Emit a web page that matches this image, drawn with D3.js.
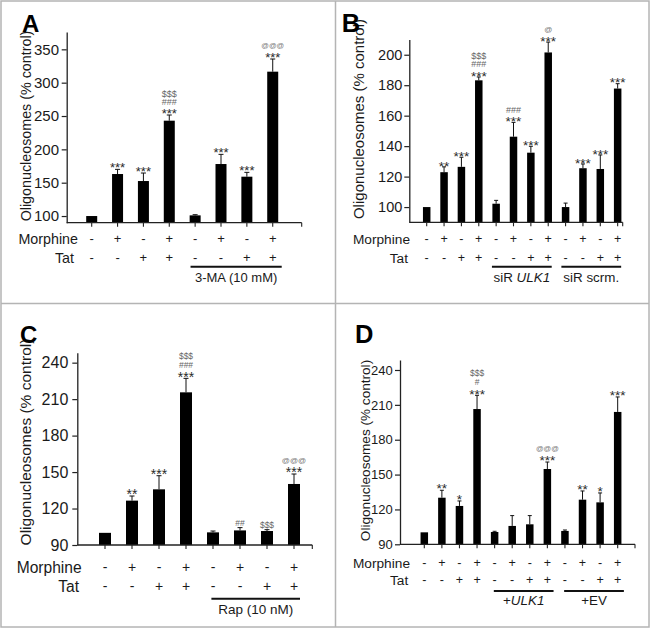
<!DOCTYPE html>
<html><head><meta charset="utf-8">
<script src="https://cdn.jsdelivr.net/npm/d3@7"></script>
<style>
body{margin:0;background:#fff}
svg{display:block}
text{font-family:Arial,"Liberation Sans",Helvetica,sans-serif;fill:#1a1a1a}
</style>
</head><body>
<svg id="c" width="651" height="629"></svg>
<script>
// ---------------- DATA ----------------
// Panel A
const categoriesA = ['Ctrl','Morph','Tat','Morph+Tat','3MA','3MA+Morph','3MA+Tat','3MA+Morph+Tat'];
const valuesA = [100, 163, 152.5, 243, 101, 178, 159, 316.5];
const errorsA = [0, 7, 12, 8.5, 1, 14.5, 6.5, 19];
const morphineA = ['-','+','-','+','-','+','-','+'];
const tatA = ['-','-','+','+','-','-','+','+'];
const signifA = [[],['***'],['***'],['***','###','$$$'],[],['***'],['***'],['***','@@@']];
const yTicksA = [100,150,200,250,300,350];
const groupsA = [{segments:['3-MA (10 mM)'], italic:[false], from:4, to:7}];

// Panel B
const categoriesB = ['Ctrl','Morph','Tat','Morph+Tat','siULK1','siULK1+Morph','siULK1+Tat','siULK1+Morph+Tat','scrm','scrm+Morph','scrm+Tat','scrm+Morph+Tat'];
const valuesB = [100, 122.9, 126.4, 183.2, 102.2, 146.2, 135.7, 201.5, 100, 125.5, 125, 177.8];
const errorsB = [0, 3.5, 6.3, 2.2, 2.2, 9.4, 4.2, 6.8, 2.6, 2.8, 9.2, 3.2];
const morphineB = ['-','+','-','+','-','+','-','+','-','+','-','+'];
const tatB = ['-','-','+','+','-','-','+','+','-','-','+','+'];
const signifB = [[],['**'],['***'],['***','###','$$$'],[],['***','###'],['***'],['***','@'],[],['***'],['***'],['***']];
const yTicksB = [100,120,140,160,180,200];
const groupsB = [{segments:['siR ','ULK1'], italic:[false,true], from:4, to:7},
                 {segments:['siR scrm.'], italic:[false], from:8, to:11}];

// Panel C
const categoriesC = ['Ctrl','Morph','Tat','Morph+Tat','Rap','Rap+Morph','Rap+Tat','Rap+Morph+Tat'];
const valuesC = [100, 126.5, 135.8, 215.6, 100.4, 102, 101.5, 140.2];
const errorsC = [0, 3.8, 11.2, 11.5, 1.1, 2.3, 1.1, 8.2];
const morphineC = ['-','+','-','+','-','+','-','+'];
const tatC = ['-','-','+','+','-','-','+','+'];
const signifC = [[],['**'],['***'],['***','###','$$$'],[],['##'],['$$$'],['***','@@@']];
const yTicksC = [90,120,150,180,210,240];
const groupsC = [{segments:['Rap (10 nM)'], italic:[false], from:4, to:7}];

// Panel D
const categoriesD = ['Ctrl','Morph','Tat','Morph+Tat','ULK1','ULK1+Morph','ULK1+Tat','ULK1+Morph+Tat','EV','EV+Morph','EV+Tat','EV+Morph+Tat'];
const valuesD = [100.3, 130.1, 123, 206.4, 100.6, 105.8, 107.2, 154.8, 101.5, 128.4, 126.1, 203.9];
const errorsD = [0, 6.4, 4.3, 11.8, 0.6, 8.9, 7.5, 6, 0.8, 7.5, 8.1, 12.9];
const morphineD = ['-','+','-','+','-','+','-','+','-','+','-','+'];
const tatD = ['-','-','+','+','-','-','+','+','-','-','+','+'];
const signifD = [[],['**'],['*'],['***','#','$$$'],[],[],[],['***','@@@'],[],['**'],['*'],['***']];
const yTicksD = [90,120,150,180,210,240];
const groupsD = [{segments:['+','ULK1'], italic:[false,true], from:4, to:7},
                 {segments:['+EV'], italic:[false], from:8, to:11}];

const yTitle = 'Oligonucleosomes (% control)';
const rowLabels = ['Morphine','Tat'];

// ---------------- LAYOUT ----------------
const layouts = {
  A:{yAxisX:66.7, plotTop:32, plotBottom:222.7, yMin:90, yMax:376, xEnd:301.7, firstCenter:91.7, step:25.86, barW:11,
     rowY:[239,258], labelRight:[78,74], rowFont:14.3, signFont:13, tickFont:15, tickPad:2.7, titleFont:14.3, titleX:26, titleY:126,
     letterX:22, letterY:32, letterFont:24, underY:266.7, underPad:[4.6,9], groupY:277, groupFont:13,
     starFont:13, symFont:9, atFont:7.5, annOff:4.5, annStep:8.5, cap:5},
  B:{yAxisX:409.3, plotTop:39.5, plotBottom:222.3, yMin:90, yMax:210, xEnd:622.7, firstCenter:426.7, step:17.36, barW:7.5,
     rowY:[239,257.7], labelRight:[410,408], rowFont:13.7, signFont:12.5, tickFont:14.5, tickPad:2, titleFont:15, titleX:358.3, titleY:119,
     letterX:341.7, letterY:31.7, letterFont:25.5, underY:266.7, underPad:[4.2,3.5], groupY:276.7, groupFont:13.4,
     starFont:13.5, symFont:9, atFont:8, annOff:4, annStep:8.8, cap:4},
  C:{yAxisX:77.3, plotTop:352.7, plotBottom:545, yMin:90, yMax:248.2, xEnd:312.3, firstCenter:105, step:27, barW:12,
     rowY:[567.3,586.7], labelRight:[81.7,79], rowFont:15.6, signFont:14, tickFont:16, tickPad:4, titleFont:15.5, titleX:26, titleY:442,
     letterX:20, letterY:343.3, letterFont:24, underY:598.7, underPad:[1.6,6], groupY:609, groupFont:13.5,
     starFont:14, symFont:8.5, atFont:8, annOff:4.5, annStep:8.8, cap:5},
  D:{yAxisX:400, plotTop:360, plotBottom:544.3, yMin:90, yMax:248.6, xEnd:635, firstCenter:424.3, step:17.58, barW:7.5,
     rowY:[563.3,580], labelRight:[410,408.3], rowFont:13.7, signFont:12.5, tickFont:13, tickPad:2.3, titleFont:13.6, titleX:365, titleY:450.5,
     letterX:355, letterY:343.3, letterFont:25.5, underY:591, underPad:[0.8,6.2], groupY:600, groupFont:13.4,
     starFont:13.5, symFont:8.5, atFont:7.5, annOff:4.5, annStep:8.8, cap:4}
};

const panels = [
  {letter:'A', categories:categoriesA, values:valuesA, errors:errorsA, rows:[morphineA,tatA], signif:signifA, yTicks:yTicksA, groups:groupsA},
  {letter:'B', categories:categoriesB, values:valuesB, errors:errorsB, rows:[morphineB,tatB], signif:signifB, yTicks:yTicksB, groups:groupsB},
  {letter:'C', categories:categoriesC, values:valuesC, errors:errorsC, rows:[morphineC,tatC], signif:signifC, yTicks:yTicksC, groups:groupsC},
  {letter:'D', categories:categoriesD, values:valuesD, errors:errorsD, rows:[morphineD,tatD], signif:signifD, yTicks:yTicksD, groups:groupsD}
];

// ---------------- DRAW ----------------
const svg = d3.select('#c');

// frame
svg.append('rect').attr('x',1).attr('y',1).attr('width',648).attr('height',626)
  .attr('fill','none').attr('stroke','#b4b4b4').attr('stroke-width',1.5);
svg.append('line').attr('x1',335.5).attr('x2',335.5).attr('y1',1).attr('y2',627)
  .attr('stroke','#b4b4b4').attr('stroke-width',1.5);
svg.append('line').attr('x1',1).attr('x2',649).attr('y1',303.5).attr('y2',303.5)
  .attr('stroke','#b4b4b4').attr('stroke-width',1.5);

panels.forEach(p => {
  const L = layouts[p.letter];
  const g = svg.append('g');
  const n = p.categories.length;
  const pad = 1 - L.barW / L.step;
  const x0 = L.firstCenter - L.step/2;
  const x = d3.scaleBand().domain(p.categories).range([x0, x0 + L.step*n])
              .paddingInner(pad).paddingOuter(pad/2);
  const cx = c => x(c) + x.bandwidth()/2;
  const y = d3.scaleLinear().domain([L.yMin, L.yMax]).range([L.plotBottom, L.plotTop]);

  // error bars
  p.categories.forEach((c,i) => {
    const e = p.errors[i];
    if (e <= 0) return;
    const yt = y(p.values[i] + e);
    g.append('line').attr('x1',cx(c)).attr('x2',cx(c)).attr('y1',y(p.values[i])).attr('y2',yt)
      .attr('stroke','#111').attr('stroke-width',1);
    g.append('line').attr('x1',cx(c)-L.cap/2).attr('x2',cx(c)+L.cap/2).attr('y1',yt).attr('y2',yt)
      .attr('stroke','#111').attr('stroke-width',1);
  });

  // bars
  g.selectAll('rect.bar').data(p.categories).join('rect').attr('class','bar')
    .attr('x', c => x(c)).attr('width', x.bandwidth())
    .attr('y', (c,i) => y(p.values[i]))
    .attr('height', (c,i) => y(L.yMin) - y(p.values[i]))
    .attr('fill','#000');

  // y axis
  const ya = g.append('g').attr('transform',`translate(${L.yAxisX},0)`)
    .call(d3.axisLeft(y).tickValues(p.yTicks).tickSize(5).tickSizeOuter(0).tickPadding(L.tickPad).tickFormat(d3.format('d')));
  ya.select('.domain').attr('stroke','#222').attr('stroke-width',1.3);
  ya.selectAll('.tick line').attr('stroke','#222').attr('stroke-width',1.2);
  ya.selectAll('.tick text').attr('font-size',L.tickFont).attr('fill','#1a1a1a')
    .attr('font-family','Arial, "Liberation Sans", sans-serif');

  // x axis (ticks at bar centres)
  const xa = g.append('g').attr('transform',`translate(0,${L.plotBottom})`)
    .call(d3.axisBottom(x).tickSize(4).tickSizeOuter(0).tickFormat(''));
  xa.select('.domain').remove();
  xa.selectAll('.tick line').attr('stroke','#222').attr('stroke-width',1.1);
  g.append('line').attr('x1',L.yAxisX).attr('x2',L.xEnd).attr('y1',L.plotBottom).attr('y2',L.plotBottom)
    .attr('stroke','#222').attr('stroke-width',1.3);
  g.append('line').attr('x1',L.xEnd).attr('x2',L.xEnd).attr('y1',L.plotBottom).attr('y2',L.plotBottom+4)
    .attr('stroke','#222').attr('stroke-width',1.1);

  // significance marks: one text per bar, stacked lines as tspans
  p.categories.forEach((c,i) => {
    if (!p.signif[i].length) return;
    const top = y(p.values[i] + p.errors[i]);
    const t = g.append('text').attr('text-anchor','middle');
    p.signif[i].forEach((s,k) => {
      const center = top - L.annOff - k*L.annStep;
      let fs, base, col;
      if (s[0] === '*') { fs = L.starFont; base = center + 0.57*fs; col = '#2a2a2a'; }
      else if (s[0] === '@') { fs = L.atFont; base = center + 0.28*fs; col = '#777'; }
      else { fs = L.symFont; base = center + 0.36*fs; col = '#666'; }
      t.append('tspan').attr('x',cx(c)).attr('y',base).attr('font-size',fs).style('fill',col).text(s);
    });
  });

  // y title
  g.append('text').attr('transform',`translate(${L.titleX},${L.titleY}) rotate(-90)`)
    .attr('text-anchor','middle').attr('dy','0.35em').attr('font-size',L.titleFont).text(yTitle);

  // panel letter
  g.append('text').attr('x',L.letterX).attr('y',L.letterY).attr('font-size',L.letterFont)
    .attr('font-weight','bold').style('fill','#000').text(p.letter);

  // treatment rows
  p.rows.forEach((row,r) => {
    g.append('text').attr('x',L.labelRight[r]).attr('y',L.rowY[r]).attr('dy','0.36em')
      .attr('text-anchor','end').attr('font-size',L.rowFont).text(rowLabels[r]);
    row.forEach((s,i) => {
      g.append('text').attr('x',cx(p.categories[i])).attr('y',L.rowY[r] + 0.33*L.signFont)
        .attr('text-anchor','middle').attr('font-size',L.signFont).text(s);
    });
  });

  // group underlines and labels
  p.groups.forEach(gr => {
    const a = cx(p.categories[gr.from]) - L.underPad[0];
    const b = cx(p.categories[gr.to]) + L.underPad[1];
    g.append('line').attr('x1',a).attr('x2',b).attr('y1',L.underY).attr('y2',L.underY)
      .attr('stroke','#111').attr('stroke-width',2);
    const t = g.append('text').attr('x',(a+b)/2).attr('y',L.groupY).attr('dy','0.36em')
      .attr('text-anchor','middle').attr('font-size',L.groupFont);
    gr.segments.forEach((sg,j) => {
      t.append('tspan').attr('font-style', gr.italic[j] ? 'italic' : 'normal').text(sg);
    });
  });
});
</script>
</body></html>
